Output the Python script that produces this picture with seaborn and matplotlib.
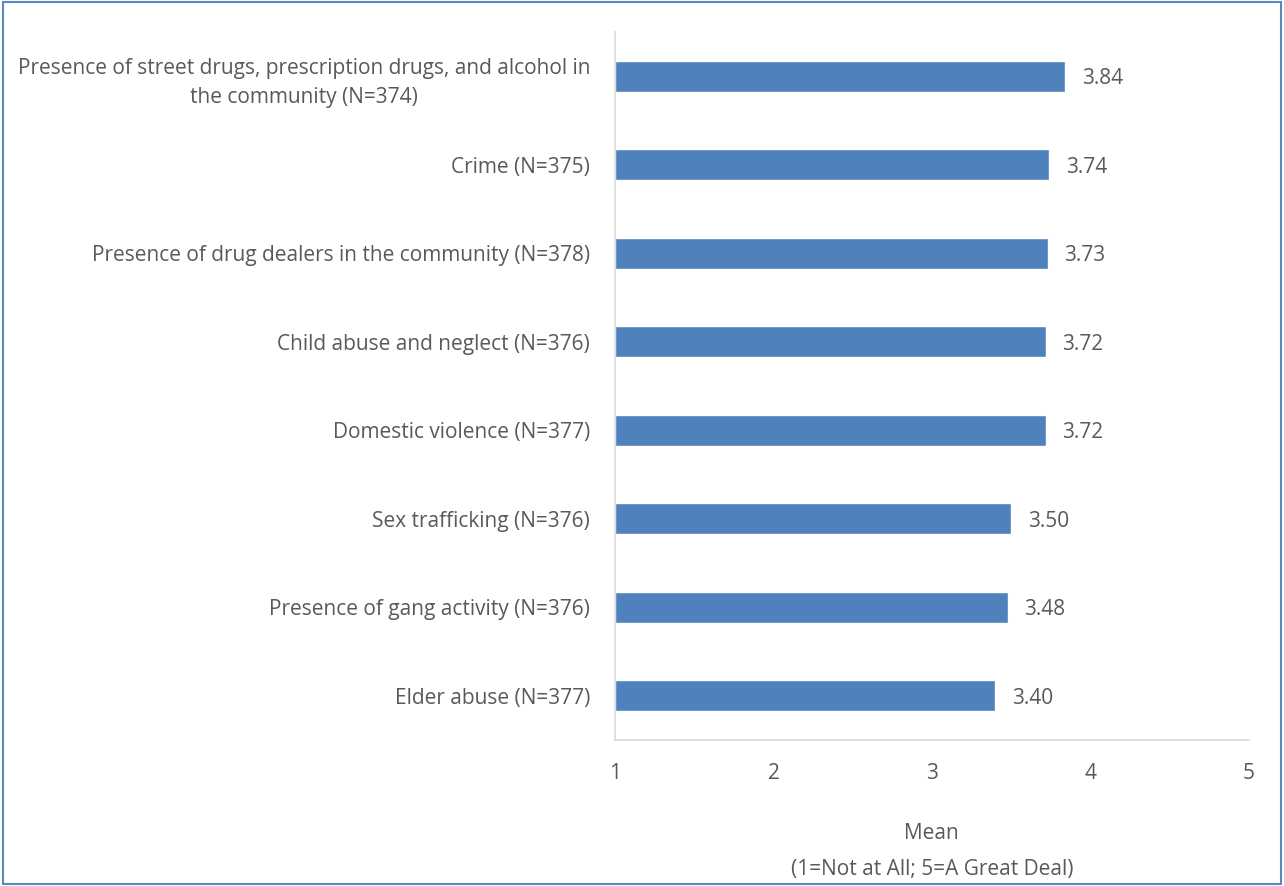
import matplotlib
matplotlib.use("Agg")
import matplotlib.pyplot as plt
import seaborn as sns
import pandas as pd

categories = [
    "Presence of street drugs, prescription drugs, and alcohol in\nthe community (N=374)",
    "Crime (N=375)",
    "Presence of drug dealers in the community (N=378)",
    "Child abuse and neglect (N=376)",
    "Domestic violence (N=377)",
    "Sex trafficking (N=376)",
    "Presence of gang activity (N=376)",
    "Elder abuse (N=377)",
]
means = [3.84, 3.74, 3.73, 3.72, 3.72, 3.50, 3.48, 3.40]
x_ticks = [1, 2, 3, 4, 5]

BAR = "#4F81BD"
TEXT = "#595959"
AXIS = "#D9D9D9"
FS = 15

sns.set_style("white")
plt.rcParams["font.family"] = ["Open Sans", "DejaVu Sans"]

df = pd.DataFrame({"Issue": categories, "Mean": means})
# bars start from 1 (Excel style axis minimum)
df["Span"] = df["Mean"] - 1

fig = plt.figure(figsize=(12.84, 8.86), dpi=100)
ax = fig.add_axes([0.479, 0.165, 0.4935, 0.799])

sns.barplot(data=df, x="Span", y="Issue", left=1, color=BAR, width=0.35,
            saturation=1, ax=ax)

for i, v in enumerate(means):
    ax.text(v + 0.105, i, f"{v:.2f}", va="center_baseline", ha="left",
            fontsize=FS, color=TEXT)

ax.set_xlim(1, 5)
ax.set_xticks(x_ticks)
ax.set_xticklabels([str(t) for t in x_ticks])
ax.set_ylim(7.5, -0.5)
ax.set_ylabel("")
ax.set_xlabel("Mean\n(1=Not at All; 5=A Great Deal)", fontsize=FS,
              color=TEXT, labelpad=28, linespacing=1.9)

for s in ["top", "right"]:
    ax.spines[s].set_visible(False)
for s in ["left", "bottom"]:
    ax.spines[s].set_color(AXIS)
    ax.spines[s].set_linewidth(1.2)

ax.tick_params(axis="x", direction="inout", length=10, width=1.2,
               color=AXIS, labelsize=FS, labelcolor=TEXT, pad=12)
ax.tick_params(axis="y", length=0, labelsize=FS, labelcolor=TEXT, pad=18)
for lab in ax.get_yticklabels():
    lab.set_multialignment("center")
    lab.set_linespacing(1.5)

# outer chart border
fig.patches.append(plt.Rectangle((0.002, 0.002), 0.996, 0.996,
                                 transform=fig.transFigure, fill=False,
                                 edgecolor="#5B87C0", linewidth=1.5))

fig.savefig("out.png", dpi=100)
